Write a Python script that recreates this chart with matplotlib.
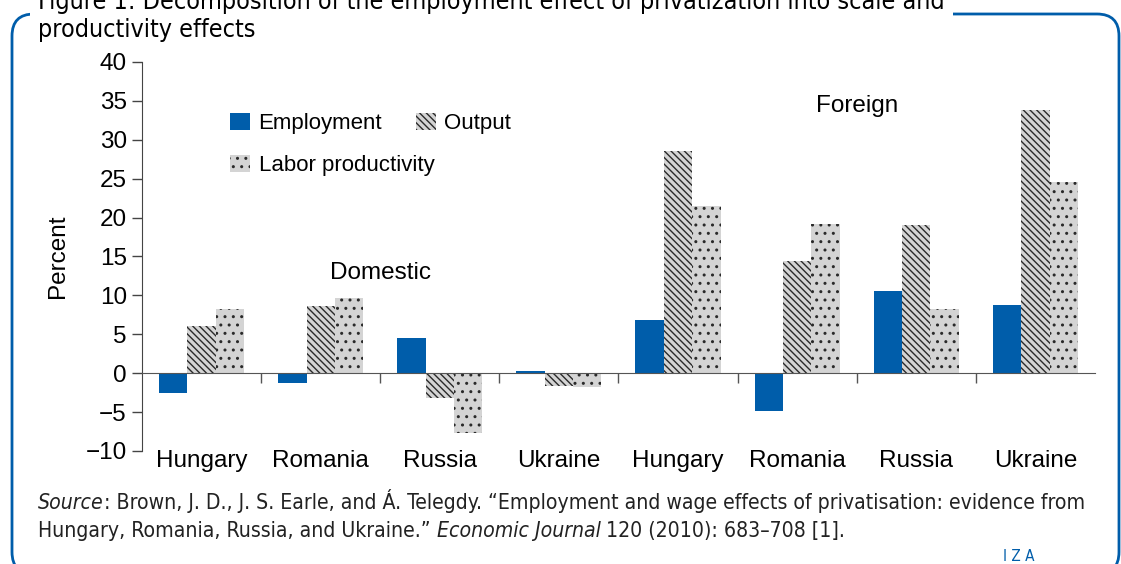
import numpy as np
import matplotlib
matplotlib.use("Agg")
import matplotlib.pyplot as plt
from matplotlib.patches import Patch, FancyBboxPatch

plt.rcParams["font.family"] = ["Liberation Sans", "DejaVu Sans"]
plt.rcParams["hatch.linewidth"] = 1.0

countries = ["Hungary", "Romania", "Russia", "Ukraine",
             "Hungary", "Romania", "Russia", "Ukraine"]
employment = [-2.5, -1.3, 4.5, 0.3, 6.8, -4.9, 10.5, 8.8]
output = [6.1, 8.6, -3.2, -1.6, 28.5, 14.4, 19.1, 33.8]
labor_prod = [8.3, 9.6, -7.7, -1.8, 21.5, 19.2, 8.3, 24.6]

blue = "#005DAA"
gray = "#D4D4D4"
hatch_col = "#2a2a2a"

fig = plt.figure(figsize=(11.21, 5.64), dpi=100)
ax = fig.add_axes([0.1267, 0.2004, 0.850, 0.6897])

x = np.arange(len(countries))
w = 0.238
ax.bar(x - w, employment, w, color=blue, linewidth=0)
ax.bar(x, output, w, color=gray, edgecolor=hatch_col, linewidth=0, hatch="\\\\\\\\\\")
ax.bar(x + w, labor_prod, w, color=gray, edgecolor=hatch_col, linewidth=0, hatch="..")

ax.set_xlim(-0.5, len(countries) - 0.5)
ax.set_ylim(-10, 40)
ax.set_yticks(np.arange(-10, 41, 5))
ax.set_xticks(np.arange(0.5, len(countries) - 0.5, 1))
ax.set_xticklabels([])
for s in ["top", "right"]:
    ax.spines[s].set_visible(False)
ax.spines["bottom"].set_position(("data", 0))
ax.spines["bottom"].set_color("#555555")
ax.spines["left"].set_color("#444444")
ax.tick_params(axis="y", direction="out", length=7, width=1, color="#444444",
               labelsize=17.5, pad=4)
ax.tick_params(axis="x", direction="out", length=7, width=1, color="#555555")
ax.set_ylabel("Percent", fontsize=17.5, labelpad=12)

for i, c in enumerate(countries):
    ax.text(i, -0.025, c, transform=ax.get_xaxis_transform(), ha="center",
            va="center", fontsize=17.5)

ax.text(1.5, 12.85, "Domestic", ha="center", va="center", fontsize=17.5)
ax.text(5.5, 34.3, "Foreign", ha="center", va="center", fontsize=17.5)

leg_kw = dict(loc="upper left", frameon=False, fontsize=16, handlelength=0.9,
              handleheight=0.8, handletextpad=0.4, columnspacing=1.5,
              borderpad=0, borderaxespad=0)
h_emp = Patch(facecolor=blue, linewidth=0, label="Employment")
h_out = Patch(facecolor=gray, edgecolor=hatch_col, linewidth=0, hatch="\\\\\\\\\\",
              label="Output")
h_lab = Patch(facecolor=gray, edgecolor=hatch_col, linewidth=0, hatch="..",
              label="Labor productivity")
leg1 = ax.legend(handles=[h_emp, h_out], ncol=2, bbox_to_anchor=(0.092, 0.869), **leg_kw)
ax.add_artist(leg1)
ax.legend(handles=[h_lab], bbox_to_anchor=(0.092, 0.762), **leg_kw)

# frame around figure
frame = FancyBboxPatch((0.12, -0.1), 11.07, 5.5 + 0.1,
                       boxstyle="round,pad=0,rounding_size=0.22",
                       transform=fig.dpi_scale_trans, facecolor="none",
                       edgecolor=blue, linewidth=2, zorder=0)
fig.patches.append(frame)

narrow = dict(family="DejaVu Sans", fontstretch="condensed")
fig.text(38 / 1121, 1 - 37 / 564,
         "Figure 1: Decomposition of the employment effect of privatization into scale and\nproductivity effects",
         ha="left", va="baseline", fontsize=18, linespacing=1.2,
         bbox=dict(facecolor="white", edgecolor="none", pad=6), **narrow)

# source note with italic pieces
renderer = fig.canvas.get_renderer()


def line_of_pieces(pieces, x0, y0):
    xx = x0
    for txt, style in pieces:
        t = fig.text(xx, y0, txt, ha="left", va="baseline", fontsize=15.2,
                     style=style, color="#222222", **narrow)
        bb = t.get_window_extent(renderer)
        xx = bb.x1 / fig.bbox.width


line_of_pieces([("Source", "italic"),
                (": Brown, J. D., J. S. Earle, and \u00c1. Telegdy. \u201cEmployment and wage effects of privatisation: evidence from", "normal")],
               38 / 1121, 1 - 509 / 564)
line_of_pieces([("Hungary, Romania, Russia, and Ukraine.\u201d ", "normal"),
                ("Economic Journal", "italic"),
                (" 120 (2010): 683\u2013708 [1].", "normal")],
               38 / 1121, 1 - 537 / 564)

fig.text(1003 / 1121, 1 - 561 / 564, "I Z A", fontsize=11, color=blue, ha="left",
         va="baseline", **narrow)

fig.savefig("out.png", dpi=100)
